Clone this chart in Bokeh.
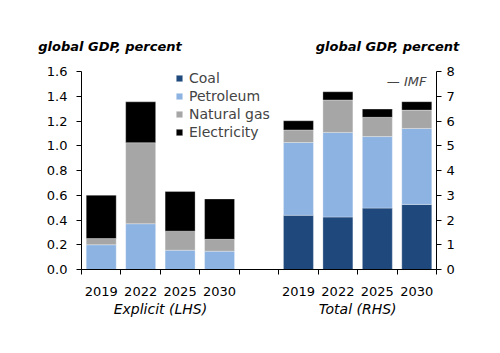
from bokeh.plotting import figure
from bokeh.models import (Range1d, LinearAxis, FixedTicker, Label, Legend, LegendItem,
                          ColumnDataSource, NumeralTickFormatter)
from bokeh.embed import file_html
from bokeh.resources import INLINE

years = ["2019", "2022", "2025", "2030"]
groups = ["Explicit (LHS)", "Total (RHS)"]
series = ["Coal", "Petroleum", "Natural gas", "Electricity"]
colors = ["#1f497d", "#8db3e2", "#a6a6a6", "#000000"]
unit_title = "global GDP, percent"
source_note = "\u2014 IMF"

# Explicit subsidies (LHS, % of global GDP)
exp_coal = [0.0, 0.0, 0.0, 0.0]
exp_petroleum = [0.20, 0.37, 0.156, 0.148]
exp_natgas = [0.05, 0.655, 0.154, 0.096]
exp_electricity = [0.35, 0.33, 0.32, 0.326]

# Total subsidies (RHS, % of global GDP)
tot_coal = [2.19, 2.12, 2.48, 2.63]
tot_petroleum = [2.94, 3.42, 2.89, 3.07]
tot_natgas = [0.51, 1.31, 0.78, 0.74]
tot_electricity = [0.37, 0.33, 0.33, 0.34]

FONT = "DejaVu Sans"
W, H = 500, 353
L, R, T, B = 81, 64, 71, 84

p = figure(width=W, height=H, output_backend="svg", toolbar_location=None,
           x_range=Range1d(-0.5, 8.5), y_range=Range1d(0, 1.6),
           min_border_left=L, min_border_right=R, min_border_top=T, min_border_bottom=B)
p.extra_y_ranges = {"right": Range1d(0, 8)}
p.outline_line_color = None
p.xgrid.visible = False
p.ygrid.visible = False
p.background_fill_color = "white"
p.border_fill_color = "white"

fw = (W - L - R) / 9.0
fh = (H - T - B) / 1.6
def dx(px):
    return -0.5 + (px - L) / fw
def dy(py):
    return (H - B - py) / fh

x_left = [0, 1, 2, 3]
x_right = [5, 6, 7, 8]
src_l = ColumnDataSource(dict(x=x_left, Coal=exp_coal, Petroleum=exp_petroleum,
                              **{"Natural gas": exp_natgas}, Electricity=exp_electricity))
src_r = ColumnDataSource(dict(x=x_right, Coal=tot_coal, Petroleum=tot_petroleum,
                              **{"Natural gas": tot_natgas}, Electricity=tot_electricity))

p.vbar_stack(series, x="x", width=0.76, color=colors, source=src_l,
             line_color="white", line_width=0.6, line_alpha=0.5)
rr = p.vbar_stack(series, x="x", width=0.76, color=colors, source=src_r, y_range_name="right",
                  line_color="white", line_width=0.6, line_alpha=0.5)

# left axis
ya = p.yaxis[0]
ya.ticker = FixedTicker(ticks=[0, 0.2, 0.4, 0.6, 0.8, 1.0, 1.2, 1.4, 1.6])
ya.formatter = NumeralTickFormatter(format="0.0")
ya.minor_tick_line_color = None
ya.major_tick_in = 0
ya.major_tick_out = 5
ya.major_label_standoff = 9
ya.major_label_text_font = FONT
ya.major_label_text_font_size = "13px"
ya.major_label_text_color = "black"

ra = LinearAxis(y_range_name="right", ticker=FixedTicker(ticks=list(range(0, 9))))
ra.minor_tick_line_color = None
ra.major_tick_in = 0
ra.major_tick_out = 5
ra.major_label_standoff = 5
ra.major_label_text_font = FONT
ra.major_label_text_font_size = "13px"
ra.major_label_text_color = "black"
p.add_layout(ra, "right")

xa = p.xaxis[0]
xa.ticker = FixedTicker(ticks=x_left + x_right,
                        minor_ticks=[-0.5 + i for i in range(10)])
xa.major_label_overrides = {x: y for x, y in zip(x_left + x_right, years + years)}
xa.major_tick_in = 0
xa.major_tick_out = 0
xa.minor_tick_in = 0
xa.minor_tick_out = 5
xa.minor_tick_line_color = "black"
xa.major_label_standoff = 12
xa.major_label_text_font = FONT
xa.major_label_text_font_size = "13px"
xa.major_label_text_color = "black"

# group labels as a second bottom axis
gpos = [1.5, 6.5]
ga = LinearAxis(ticker=FixedTicker(ticks=gpos),
                major_label_overrides={x: g for x, g in zip(gpos, groups)})
ga.axis_line_color = None
ga.major_tick_line_color = None
ga.minor_tick_line_color = None
ga.major_tick_out = 0
ga.major_tick_in = 0
ga.major_label_standoff = 2
ga.major_label_text_font = FONT
ga.major_label_text_font_size = "14px"
ga.major_label_text_font_style = "italic"
ga.major_label_text_color = "black"
p.add_layout(ga, "below")

# unit titles as a top axis
tpos = [dx(109.5), dx(387)]
ta = LinearAxis(ticker=FixedTicker(ticks=tpos),
                major_label_overrides={x: unit_title for x in tpos})
ta.axis_line_color = None
ta.major_tick_line_color = None
ta.minor_tick_line_color = None
ta.major_tick_out = 0
ta.major_tick_in = 0
ta.major_label_standoff = 18
ta.major_label_text_font = FONT
ta.major_label_text_font_size = "13px"
ta.major_label_text_font_style = "bold italic"
ta.major_label_text_color = "black"
p.add_layout(ta, "above")

p.add_layout(Label(x=dx(426), y=dy(81), text=source_note, text_align="right",
                   text_baseline="middle", text_font=FONT, text_font_size="13px",
                   text_font_style="italic"))

PAD = 3
legend = Legend(items=[LegendItem(label=s, renderers=[r]) for s, r in zip(series, rr)],
                location=(178 - L - PAD, H - B - 141), orientation="vertical",
                glyph_width=8, glyph_height=8, label_height=18, label_standoff=6,
                spacing=0, padding=PAD, margin=0,
                label_text_font=FONT, label_text_font_size="14px",
                background_fill_alpha=0, border_line_color=None)
p.add_layout(legend, "center")

open("out.html", "w").write(file_html(p, INLINE))
